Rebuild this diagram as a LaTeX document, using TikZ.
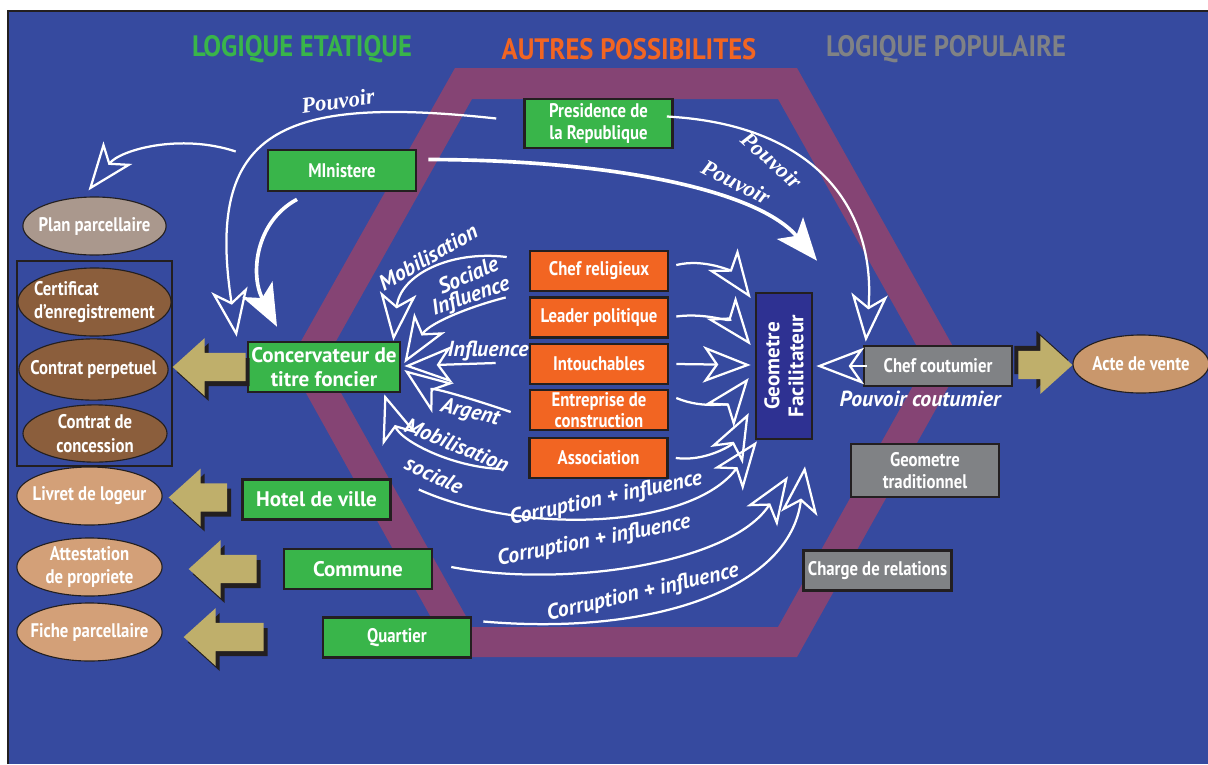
\documentclass[tikz,border=0pt]{standalone}
\usepackage{fontspec}
\setmainfont{PT Sans}
\newfontfamily\etroit[FakeStretch=0.85]{PT Sans}
\newfontfamily\moyen[FakeStretch=0.9]{PT Sans}
\newfontfamily\empatte{Liberation Serif}
\usetikzlibrary{calc,arrows.meta,shapes.geometric}

\definecolor{fond}{RGB}{54,74,159}
\definecolor{bande}{RGB}{133,68,116}
\definecolor{vert}{RGB}{57,181,74}
\definecolor{oranger}{RGB}{242,101,34}
\definecolor{gris}{RGB}{128,130,133}
\definecolor{bleunuit}{RGB}{46,49,146}
\definecolor{brun}{RGB}{139,94,60}
\definecolor{taupe}{RGB}{170,152,141}
\definecolor{sable}{RGB}{211,160,120}
\definecolor{ocre}{RGB}{201,151,108}
\definecolor{kaki}{RGB}{191,175,107}
\definecolor{trait}{RGB}{35,31,32}

% grosse fleche pleine avec ombre : pointe, queue, sens (1 vers la gauche, -1 vers la droite)
\newcommand\fatarrow[3]{%
  \foreach \ox/\oy/\teinte in {2.8/3.6/trait,0/0/kaki}{
    \fill[\teinte] let \p1=#1, \p2=#2 in
      (\x1+#3*\ox pt,\y1-#3*\oy pt) -- (\x1+#3*22.8pt+#3*\ox pt,\y1+20.6pt-#3*\oy pt)
      -- (\x1+#3*22.8pt+#3*\ox pt,\y1+10pt-#3*\oy pt) -- (\x2+#3*\ox pt,\y1+10pt-#3*\oy pt)
      -- (\x2+#3*\ox pt,\y1-10pt-#3*\oy pt) -- (\x1+#3*22.8pt+#3*\ox pt,\y1-10pt-#3*\oy pt)
      -- (\x1+#3*22.8pt+#3*\ox pt,\y1-20.6pt-#3*\oy pt) -- cycle;
  }%
}

\begin{document}
\begin{tikzpicture}[x=0.025cm,y=-0.025cm,
  boite/.style={draw=trait,line width=1.8pt,text=white,align=center,inner sep=1pt,
    font=\etroit\bfseries\fontsize{14}{16}\selectfont,minimum width=3.7cm,minimum height=1cm},
  grand/.style={font=\bfseries\fontsize{15}{17}\selectfont},
  etat/.style={boite,fill=vert},
  autre/.style={boite,fill=oranger,minimum width=3.45cm},
  popu/.style={boite,fill=gris},
  doc/.style={ellipse,draw=trait,line width=0.8pt,text=white,align=center,inner xsep=-9pt,inner ysep=-2pt,
    font=\etroit\bfseries\fontsize{14}{16.5}\selectfont,minimum width=3.63cm,minimum height=1.45cm},
  flux/.style={white,line width=1.6pt,-{Stealth[open,length=34pt,width=26pt,inset=9pt]}},
  pouvoir/.style={white,line width=2.6pt,-{Stealth[length=30pt,width=24pt,inset=7pt]}},
  etiq/.style={text=white,inner sep=0pt,font=\bfseries\itshape\fontsize{15.5}{17}\selectfont},
  etiqp/.style={text=white,inner sep=0pt,font=\empatte\bfseries\itshape\fontsize{16}{18}\selectfont},
  titre/.style={inner sep=0pt,font=\moyen\bfseries\fontsize{21}{24}\selectfont}]
  \useasboundingbox (0,0) rectangle (1208,764);

  % fond et hexagone
  \fill[white] (0,0) rectangle (1208,764);
  \fill[fond] (8,11) rectangle (1208,764);
  \draw[trait,line width=1pt] (8,764) -- (8,11) -- (1208,11);
  \fill[bande,even odd rule] (455,68) -- (797,68) -- (962,362.5) -- (797,657) -- (453,657) -- (289,362.5) -- cycle
    (472,99) -- (778,99) -- (926,362.5) -- (778,627) -- (472,627) -- (324,362.5) -- cycle;

  % titres
  \node[titre,text=vert] (tetat) at (302,49) {LOGIQUE ETATIQUE};
  \node[titre,text=oranger] (tautre) at (629,49) {AUTRES POSSIBILITES};
  \node[titre,text=gris] (tpop) at (946,49) {LOGIQUE POPULAIRE};

  % logique etatique
  \node[etat,minimum height=1.22cm] (presidence) at (598.5,123.5) {Presidence de\\la Republique};
  \node[etat,minimum height=1.03cm] (ministere) at (342,170.5) {MInistere};
  \node[etat,grand,minimum width=3.8cm,minimum height=1.25cm] (conserv) at (324,367) {Concervateur de\\titre foncier};
  \node[etat,grand] (hotel) at (316.5,499.5) {Hotel de ville};
  \node[etat,grand] (commune) at (358,569) {Commune};
  \node[etat] (quartier) at (397,637.5) {Quartier};

  % autres possibilites
  \node[autre] (chefrel) at (599,271) {Chef religieux};
  \node[autre] (leader) at (599,317.5) {Leader politique};
  \node[autre] (intouch) at (599,364) {Intouchables};
  \node[autre,inner ysep=0pt,font=\etroit\bfseries\fontsize{14}{15}\selectfont] (entreprise) at (599,410) {Entreprise de\\construction};
  \node[autre] (assoc) at (598.5,458) {Association};
  \node[boite,fill=bleunuit,minimum width=1.4cm,minimum height=3.65cm] (geometre) at (784,366) {};
  \node[grand,text=white,align=center,rotate=90] (geotexte) at (geometre.center) {Geometre\\Facilitateur};

  % logique populaire
  \node[popu] (chefcout) at (938,366) {Chef coutumier};
  \node[popu,minimum height=1.33cm] (geotrad) at (925,470.5) {Geometre\\traditionnel};
  \node[popu] (charge) at (877.5,570.5) {Charge de relations};

  % documents
  \node[doc,fill=taupe,minimum width=3.58cm] (plan) at (94.5,226) {Plan parcellaire};
  \node[doc,fill=brun,align=left,minimum width=3.83cm,minimum height=1.7cm] (certif) at (94.5,302) {Certificat\\d’enregistrement};
  \node[doc,fill=brun,minimum width=3.73cm,minimum height=1.53cm] (perpet) at (93.5,369.5) {Contrat perpetuel};
  \node[doc,fill=brun,minimum width=3.6cm,minimum height=1.43cm] (concess) at (95,433.5) {Contrat de\\concession};
  \node[draw=trait,line width=1.4pt,inner sep=0pt,minimum width=3.88cm,minimum height=5.13cm] (cadre) at (94.5,363.5) {};
  \node[doc,fill=sable] (livret) at (89.5,496) {Livret de logeur};
  \node[doc,fill=sable] (attest) at (89.5,567) {Attestation\\de propriete};
  \node[doc,fill=sable] (fiche) at (89.5,632) {Fiche parcellaire};
  \node[doc,fill=ocre,minimum width=3.4cm] (acte) at (1141,364) {Acte de vente};

  % grosses fleches
  \fatarrow{($(perpet.east)+(4,-2.5)$)}{($(conserv.west)+(-1,0)$)}{1}
  \fatarrow{($(livret.east)+(6,1.5)$)}{($(hotel.west)+(-14,0)$)}{1}
  \fatarrow{($(attest.east)+(26,2)$)}{($(commune.west)+(-26,0)$)}{1}
  \fatarrow{($(fiche.east)+(21,5)$)}{($(quartier.west)+(-58,0)$)}{1}
  \fatarrow{($(acte.west)+(0,1)$)}{($(chefcout.east)+(5,0)$)}{-1}

  % pouvoir
  \draw[flux] ($(presidence.west)+(-27,-5)$) .. controls (280,95) and (205,130) .. ($(conserv.north west)+(-10,-4)$);
  \draw[flux] ($(ministere.west)+(-31,-19)$) .. controls (180,133) and (120,150) .. ($(plan.north)+(-6,-6)$);
  \draw[pouvoir] ($(ministere.south)+(-45,7)$) .. controls (255,222) and (250,275) .. ($(conserv.north)+(-47,-14)$);
  \draw[pouvoir] ($(ministere.east)+(11,-11)$) .. controls (620,160) and (760,192) .. ($(geometre.north)+(33,-31)$);
  \draw[flux] ($(presidence.east)+(-7,-7)$) .. controls (822,125) and (876,215) .. ($(chefcout.north west)+(3,-3)$);
  \draw[flux] ($(chefcout.west)+(4,0)$) -- ($(geometre.east)+(3,0)$);
  \node[etiqp,rotate=8] (lpouv1) at (338,101) {Pouvoir};
  \node[etiqp,rotate=-42] (lpouv2) at (772,160) {Pouvoir};
  \node[etiqp,rotate=-27] (lpouv3) at (736,182) {Pouvoir};
  \node[etiq] (lcout) at ($(chefcout.south)+(-18,12)$) {Pouvoir coutumier};

  % vers le geometre
  \draw[flux] ($(chefrel.east)+(7,-6)$) .. controls (705,258) and (732,272) .. ($(geometre.west)+(-4,-68)$);
  \draw[flux] ($(leader.east)+(7,-1)$) .. controls (710,312) and (735,325) .. ($(geometre.west)+(-4,-21)$);
  \draw[flux] ($(intouch.east)+(7,0)$) -- ($(geometre.west)+(-4,-1)$);
  \draw[flux] ($(entreprise.east)+(7,-12)$) .. controls (705,410) and (730,402) .. ($(geometre.west)+(-6,12)$);
  \draw[flux] ($(assoc.east)+(7,0)$) .. controls (705,462) and (732,445) .. ($(geometre.west)+(-6,47)$);
  \draw[flux] ($(hotel.east)+(27,-10)$) .. controls (520,535) and (690,530) .. ($(geometre.south)+(-27,1)$);
  \draw[flux] ($(commune.east)+(18,-2)$) .. controls (560,588) and (730,565) .. ($(geometre.south)+(4,36)$);
  \draw[flux] ($(quartier.east)+(11,-16)$) .. controls (650,636) and (790,590) .. ($(geometre.south)+(21,26)$);
  \node[etiq,rotate=12] (lcorr1) at (606,499) {Corruption + influence};
  \node[etiq,rotate=11] (lcorr2) at (594,541) {Corruption + influence};
  \node[etiq,rotate=13] (lcorr3) at (643,593) {Corruption + influence};

  % vers le conservateur
  \draw[flux] ($(chefrel.west)+(-22,-14)$) .. controls (450,250) and (400,275) .. ($(conserv.north east)+(-8,0)$);
  \draw[flux] ($(leader.west)+(-23,-20)$) .. controls (475,305) and (430,322) .. ($(conserv.east)+(3,-4)$);
  \draw[flux] ($(intouch.west)+(-33,-1)$) -- ($(conserv.east)+(3,-1)$);
  \draw[flux] ($(entreprise.west)+(-18,2)$) .. controls (470,398) and (425,385) .. ($(conserv.east)+(3,3)$);
  \draw[flux] ($(assoc.west)+(-27,11)$) .. controls (450,467) and (400,440) .. ($(conserv.south east)+(-17,1)$);
  \node[etiq,rotate=30] (lmob1) at (428,257) {Mobilisation};
  \node[etiq,rotate=24] (lsoc1) at (468,275) {Sociale};
  \node[etiq,rotate=19] (linf1) at (471,297) {Influence};
  \node[etiq] (linf2) at (488,351) {Influence};
  \node[etiq,rotate=-14] (larg) at (470,413) {Argent};
  \node[etiq,rotate=-22] (lmob2) at (457,445) {Mobilisation};
  \node[etiq,rotate=-25] (lsoc2) at (434,475) {sociale};
\end{tikzpicture}
\end{document}
